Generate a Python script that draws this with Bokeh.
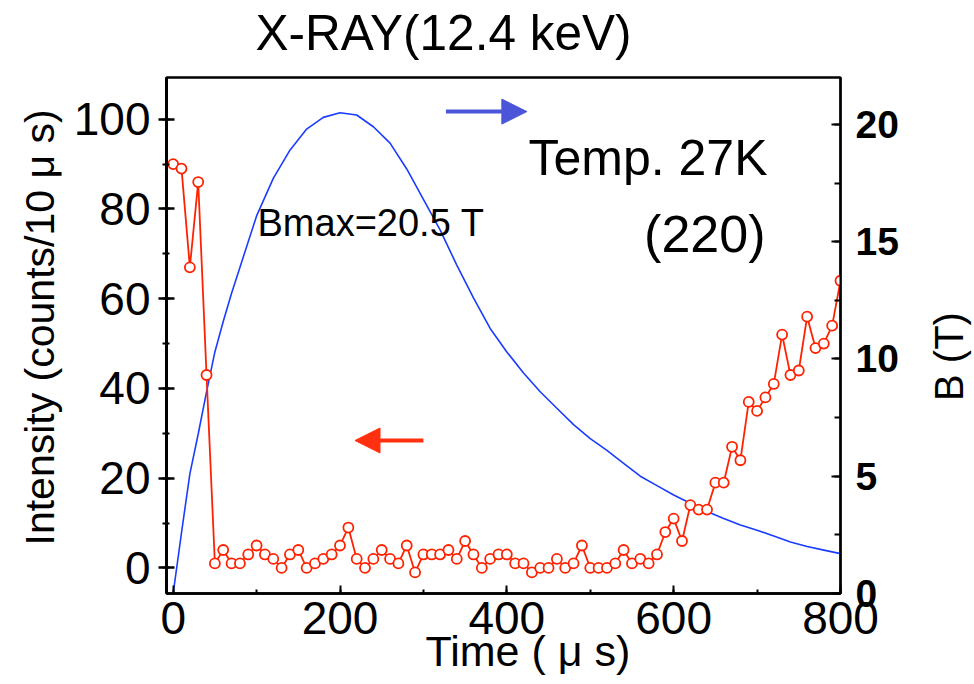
import math
from bokeh.plotting import figure
from bokeh.layouts import row, column
from bokeh.models import (Range1d, LinearAxis, Label, Arrow, NormalHead,
                          SingleIntervalTicker, Title)
from bokeh.embed import file_html
from bokeh.resources import INLINE

# ---- data ----
time_red = list(range(0, 810, 10))
intensity = [90, 89, 67, 86, 43, 1, 4, 1, 1, 3,
             5, 3, 2, 0, 3, 4, 0, 1, 2, 3,
             5, 9, 2, 0, 2, 4, 2, 1, 5, -1,
             3, 3, 3, 4, 2, 6, 3, 0, 2, 3,
             3, 1, 1, -1, 0, 0, 2, 0, 1, 5,
             0, 0, 0, 1, 4, 1, 2, 1, 3, 8,
             11, 6, 14, 13, 13, 19, 19, 27, 24, 37,
             35, 38, 41, 52, 43, 44, 56, 49, 50, 54, 64]

time_b = [0, 10, 20, 30, 40, 50, 60, 70, 80, 100, 120, 140, 160, 180, 200,
          220, 240, 260, 280, 300, 320, 340, 360, 380, 400, 420, 440, 460,
          480, 500, 520, 540, 560, 580, 600, 620, 640, 660, 680, 700, 720,
          740, 760, 780, 800]
field_b = [0, 2.6, 5.1, 6.8, 8.6, 10.3, 11.6, 12.8, 13.9, 16.1, 17.7, 18.9,
           19.8, 20.3, 20.5, 20.4, 19.9, 19.2, 18.1, 16.8, 15.5, 14.0, 12.6,
           11.3, 10.3, 9.4, 8.6, 7.9, 7.2, 6.6, 6.1, 5.55, 5.0, 4.6, 4.2,
           3.85, 3.5, 3.2, 2.92, 2.7, 2.45, 2.2, 2.0, 1.85, 1.7]

RED = "#ff2200"
BLUE = "#1a3cff"
FONT = "Liberation Sans"

TOTAL_W, TOTAL_H = 974, 684
TOP_H = 72                 # strip carrying the chart title
MAIN_W = 915               # main plot width; the rest is a strip for "B (T)"
MAIN_H = TOTAL_H - TOP_H
SIDE_W = TOTAL_W - MAIN_W
FRAME_TOP, FRAME_BOTTOM = 77, 593   # canvas rows of the plot frame


def blank_strip(w, h, top=0, bottom=0):
    f = figure(width=w, height=h, output_backend="svg", toolbar_location=None,
               x_axis_location=None, y_axis_location=None,
               x_range=Range1d(0, w), y_range=Range1d(0, h - top - bottom),
               min_border=0, min_border_top=top, min_border_bottom=bottom)
    f.grid.visible = False
    f.outline_line_color = None
    f.background_fill_color = "white"
    f.border_fill_color = "white"
    return f


# ---- title strip ----
t = blank_strip(TOTAL_W, TOP_H)
t.add_layout(Label(text="X-RAY(12.4 keV)", x=255, y=TOP_H - 52 + 20,
                   text_font=FONT, text_font_size="49.5px",
                   text_align="left", text_baseline="alphabetic",
                   text_color="black"))

# ---- main plot ----
p = figure(width=MAIN_W, height=MAIN_H, output_backend="svg",
           toolbar_location=None,
           x_range=Range1d(-8, 800), y_range=Range1d(-5.7, 109.3),
           min_border_left=166, min_border_right=MAIN_W - 840,
           min_border_top=FRAME_TOP - TOP_H,
           min_border_bottom=TOTAL_H - FRAME_BOTTOM)
p.xgrid.visible = False
p.ygrid.visible = False
p.outline_line_color = "black"
p.outline_line_width = 2.5
p.background_fill_color = "white"
p.border_fill_color = "white"

# left axis
ly = p.yaxis[0]
ly.ticker = SingleIntervalTicker(interval=20, num_minor_ticks=2)
ly.axis_line_width = 3
ly.major_tick_line_width = 2.5
ly.minor_tick_line_width = 2
ly.major_tick_in = 8
ly.major_tick_out = 8
ly.minor_tick_in = 3
ly.minor_tick_out = 4
ly.major_label_standoff = 8
ly.major_label_text_font = FONT
ly.major_label_text_font_size = "46px"
ly.major_label_text_color = "black"

# bottom axis
bx = p.xaxis[0]
bx.ticker = SingleIntervalTicker(interval=200, num_minor_ticks=2)
bx.axis_line_width = 2.5
bx.major_tick_line_width = 2
bx.minor_tick_line_width = 2
bx.major_tick_in = 8
bx.major_tick_out = 0
bx.minor_tick_in = 4
bx.minor_tick_out = 0
bx.major_label_standoff = 8
bx.major_label_text_font = FONT
bx.major_label_text_font_size = "46px"
bx.major_label_text_color = "black"

# right axis (B)
p.extra_y_ranges = {"B": Range1d(0, 22)}
ry = LinearAxis(y_range_name="B",
                ticker=SingleIntervalTicker(interval=5, num_minor_ticks=2))
ry.axis_line_width = 2
ry.major_tick_line_width = 2
ry.minor_tick_line_width = 2
ry.major_tick_in = 9
ry.major_tick_out = 0
ry.minor_tick_in = 6
ry.minor_tick_out = 0
ry.major_label_standoff = 15
ry.major_label_text_font = FONT
ry.major_label_text_font_style = "bold"
ry.major_label_text_font_size = "39px"
ry.major_label_text_color = "black"
p.add_layout(ry, "right")

# axis titles placed in side panels
p.add_layout(Title(text="Intensity (counts/10 μ s)", align="left",
                   offset=593 - 545, vertical_align="bottom", standoff=16,
                   text_font=FONT, text_font_size="41px",
                   text_font_style="normal", text_color="black"), "left")
p.add_layout(Title(text="Time ( μ s)", align="left", offset=425 - 166,
                   vertical_align="top", standoff=-19,
                   text_font=FONT, text_font_size="43px",
                   text_font_style="normal", text_color="black"), "below")

# data
p.line(time_b, field_b, y_range_name="B", line_color=BLUE, line_width=1.6)
p.line(time_red, intensity, line_color=RED, line_width=1.8)
p.scatter(time_red, intensity, marker="circle", size=10, fill_color="white",
          line_color=RED, line_width=1.8)

# arrows
p.add_layout(Arrow(end=NormalHead(size=25, fill_color="#4a55d8",
                                  line_color="#4a55d8"),
                   x_start=327, y_start=101.7, x_end=424, y_end=101.7,
                   line_color="#4a55d8", line_width=4))
p.add_layout(Arrow(end=NormalHead(size=25, fill_color="#ff3010",
                                  line_color="#ff3010"),
                   x_start=300, y_start=28.4, x_end=218, y_end=28.4,
                   line_color="#ff3010", line_width=4))

def lab(text, x, y, size, align="left"):
    p.add_layout(Label(text=text, x=x, y=y, x_units="screen", y_units="screen",
                       text_font=FONT, text_font_size=size, text_align=align,
                       text_baseline="alphabetic", text_color="black"))

# frame origin at canvas (166, 593); empirical baseline correction applied
lab("Temp. 27K", 767 - 166, 593 - 177 + 20, "50px", align="right")
lab("(220)", 765 - 166, 593 - 253 + 20, "52px", align="right")
lab("Bmax=20.5 T", 257 - 166, 593 - 236 + 14, "38px")

# ---- right strip carrying "B (T)", reading upward ----
# its frame is aligned with the main frame (canvas rows 77..593)
q = blank_strip(SIDE_W, MAIN_H, top=FRAME_TOP - TOP_H,
                bottom=TOTAL_H - FRAME_BOTTOM)
q.add_layout(Label(text="B (T)", x=948 - MAIN_W, y=FRAME_BOTTOM - 356,
                   text_font=FONT, text_font_size="40px",
                   text_align="center", text_baseline="middle",
                   angle=math.pi / 2, text_color="black"))

layout = column(t, row(p, q))
open("out.html", "w").write(file_html(layout, INLINE))
